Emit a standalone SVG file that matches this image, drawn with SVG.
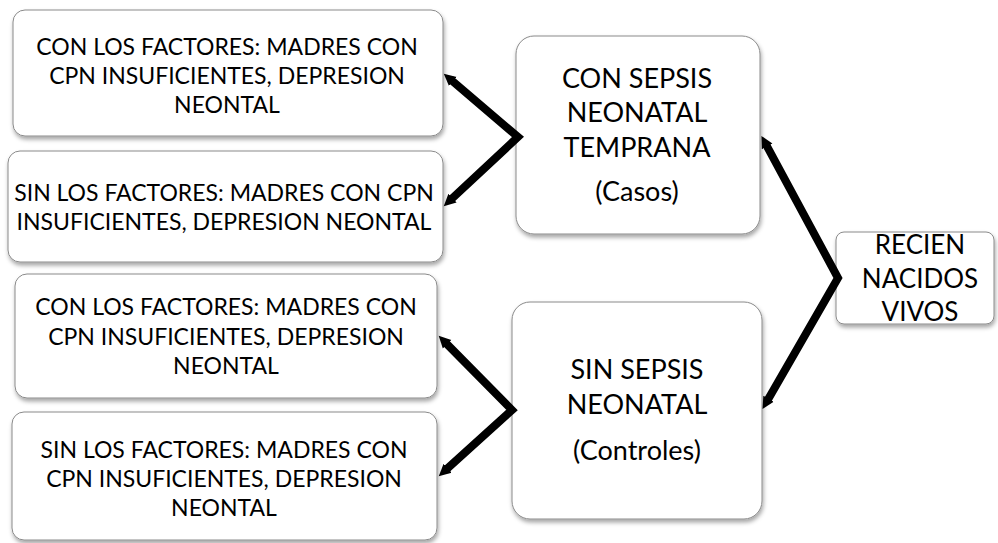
<svg xmlns="http://www.w3.org/2000/svg" width="998" height="543" viewBox="0 0 998 543">
<defs>
<filter id="sh" x="-10%" y="-10%" width="120%" height="130%">
<feDropShadow dx="1" dy="3" stdDeviation="2" flood-color="#000" flood-opacity="0.35"/>
</filter>
<marker id="ah" markerUnits="userSpaceOnUse" markerWidth="14" markerHeight="14" refX="3" refY="7" orient="auto-start-reverse" viewBox="0 0 14 14">
<path d="M0,1 L12,7 L0,13 z" fill="#000"/>
</marker>
</defs>
<style>
.box{fill:#fff;stroke:#8a8a8a;stroke-width:1;filter:url(#sh)}
.t{font-family:Lato,"Open Sans","Liberation Sans",sans-serif;fill:#000;text-anchor:middle}
.s{font-size:23px}
.b{font-size:27px}
.c{fill:none;stroke:#000;stroke-width:8;stroke-linejoin:miter;stroke-miterlimit:10;marker-start:url(#ah);marker-end:url(#ah)}
</style>
<rect width="998" height="543" fill="#fff"/>
<g id="f1">
<rect class="box" x="13" y="10" width="430" height="126" rx="12"/>
<text class="t s" x="227" y="55">CON LOS FACTORES: MADRES CON</text>
<text class="t s" x="227" y="84">CPN INSUFICIENTES, DEPRESION</text>
<text class="t s" x="227" y="113">NEONTAL</text>
</g>
<g id="f2">
<rect class="box" x="8" y="151" width="435" height="111" rx="12"/>
<text class="t s" x="224" y="201">SIN LOS FACTORES: MADRES CON CPN</text>
<text class="t s" x="224" y="230">INSUFICIENTES, DEPRESION NEONTAL</text>
</g>
<g id="f3">
<rect class="box" x="15" y="274" width="422" height="124" rx="12"/>
<text class="t s" x="226" y="315">CON LOS FACTORES: MADRES CON</text>
<text class="t s" x="226" y="345">CPN INSUFICIENTES, DEPRESION</text>
<text class="t s" x="226" y="374">NEONTAL</text>
</g>
<g id="f4">
<rect class="box" x="12" y="412" width="425" height="128" rx="12"/>
<text class="t s" x="224" y="458">SIN LOS FACTORES: MADRES CON</text>
<text class="t s" x="224" y="487">CPN INSUFICIENTES, DEPRESION</text>
<text class="t s" x="224" y="516">NEONTAL</text>
</g>
<g id="casos">
<rect class="box" x="516" y="36" width="244" height="198" rx="18"/>
<text class="t b" x="637" y="88">CON SEPSIS</text>
<text class="t b" x="637" y="122">NEONATAL</text>
<text class="t b" x="637" y="157">TEMPRANA</text>
<text class="t b" x="637" y="201">(Casos)</text>
</g>
<g id="controles">
<rect class="box" x="512" y="302" width="250" height="217" rx="18"/>
<text class="t b" x="637" y="379">SIN SEPSIS</text>
<text class="t b" x="637" y="414">NEONATAL</text>
<text class="t b" x="637" y="460">(Controles)</text>
</g>
<g id="recien">
<rect class="box" x="836" y="232" width="158" height="92" rx="8"/>
<text class="t" font-size="26" x="920" y="254">RECIEN</text>
<text class="t" font-size="26" x="920" y="288">NACIDOS</text>
<text class="t" font-size="26" x="920" y="321">VIVOS</text>
</g>
<g id="connectors">
<path class="c" d="M450.6,79.5 L518,137 L450.3,200.2"/>
<path class="c" d="M445,342.1 L512,410 L445.4,470.3"/>
<path class="c" d="M765.7,143.8 L838,278 L767,401.3"/>
</g>
</svg>
